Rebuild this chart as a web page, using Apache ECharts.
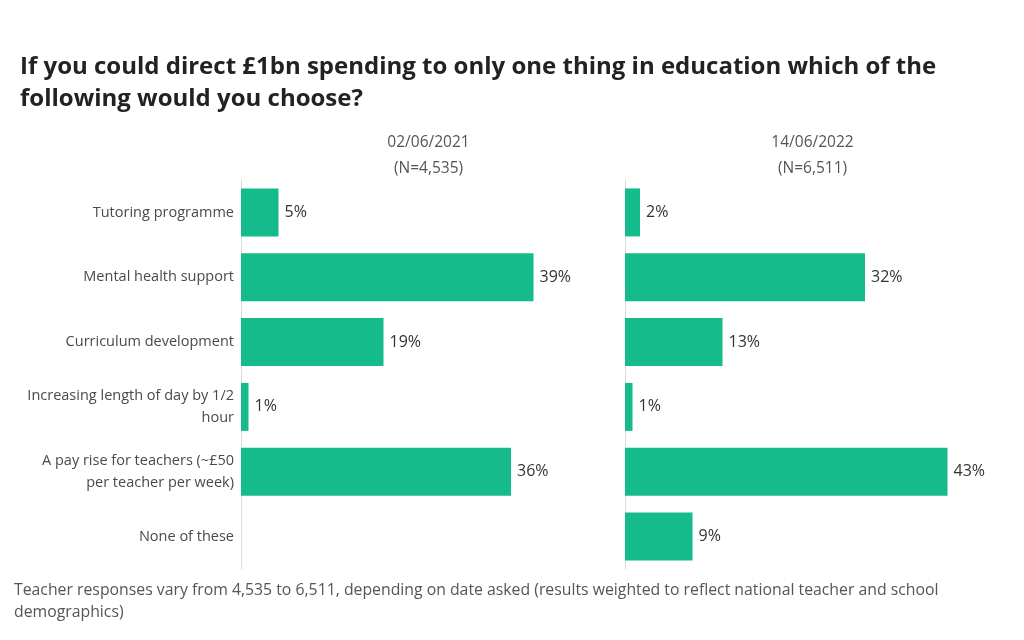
<!DOCTYPE html>
<html>
<head>
<meta charset="utf-8">
<script src="https://cdn.jsdelivr.net/npm/echarts@6/dist/echarts.min.js"></script>
<style>
  html, body { margin: 0; padding: 0; background: #fff; }
  #chart { width: 1024px; height: 640px; }
</style>
</head>
<body>
<div id="chart"></div>
<script>
const categories = [
  'Tutoring programme',
  'Mental health support',
  'Curriculum development',
  'Increasing length of day by 1/2\nhour',
  'A pay rise for teachers (~£50\nper teacher per week)',
  'None of these'
]
const values2021 = [5, 39, 19, 1, 36, 0]
const values2022 = [2, 32, 13, 1, 43, 9]
const panelNames = ['02/06/2021\n(N=4,535)', '14/06/2022\n(N=6,511)']

const FONT = '"Open Sans", Lato, sans-serif'
const GREEN = '#15bb8b'

const chart = echarts.init(document.getElementById('chart'))

function valueAxis(idx, name) {
  return {
    type: 'value',
    gridIndex: idx,
    min: 0,
    max: 50,
    position: 'top',
    name: name,
    nameLocation: 'middle',
    nameGap: -2,
    nameTextStyle: { color: '#555', fontSize: 15.5, lineHeight: 26, fontFamily: FONT },
    axisLine: { show: false },
    axisTick: { show: false },
    axisLabel: { show: false },
    splitLine: { show: false }
  }
}

function catAxis(idx, showLabels) {
  return {
    type: 'category',
    gridIndex: idx,
    data: categories,
    inverse: true,
    axisLine: { show: true, lineStyle: { color: '#dcdcdc', width: 1 } },
    axisTick: { show: false },
    axisLabel: {
      show: showLabels,
      color: '#4a4a4a',
      fontSize: 14.5,
      lineHeight: 22,
      fontFamily: FONT,
      align: 'right',
      margin: 7
    }
  }
}

function barSeries(idx, data) {
  return {
    type: 'bar',
    xAxisIndex: idx,
    yAxisIndex: idx,
    data: data,
    barCategoryGap: '26%',
    itemStyle: { color: GREEN },
    label: {
      show: true,
      position: 'right',
      distance: 6,
      color: '#333',
      fontSize: 16,
      fontFamily: FONT,
      formatter: p => (p.value > 0 ? p.value + '%' : '')
    },
    animation: false
  }
}

chart.setOption({
  backgroundColor: '#fff',
  textStyle: { fontFamily: FONT },
  title: [
    {
      text: 'If you could direct £1bn spending to only one thing in education which of the\nfollowing would you choose?',
      left: 20,
      top: 51,
      padding: 0,
      textStyle: { fontSize: 24, fontWeight: 'bold', color: '#222', lineHeight: 32, fontFamily: FONT }
    },
    {
      text: 'Teacher responses vary from 4,535 to 6,511, depending on date asked (results weighted to reflect national teacher and school\ndemographics)',
      left: 14,
      top: 579,
      padding: 0,
      textStyle: { fontSize: 15.8, fontWeight: 'normal', color: '#555', lineHeight: 22, fontFamily: FONT }
    }
  ],
  grid: [
    { left: 241, top: 180, width: 375, height: 389 },
    { left: 625, top: 180, width: 375, height: 389 }
  ],
  xAxis: [valueAxis(0, panelNames[0]), valueAxis(1, panelNames[1])],
  yAxis: [catAxis(0, true), catAxis(1, false)],
  series: [barSeries(0, values2021), barSeries(1, values2022)]
})
</script>
</body>
</html>
